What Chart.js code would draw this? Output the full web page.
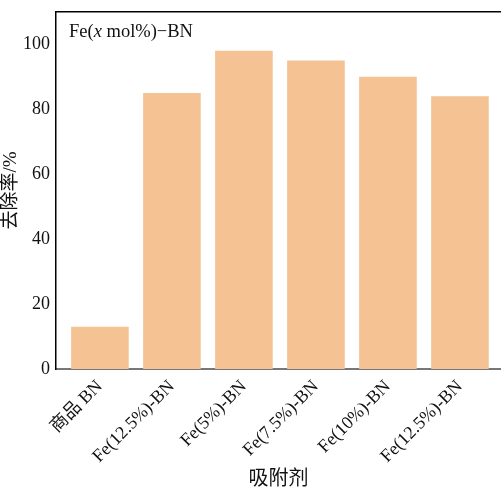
<!DOCTYPE html>
<html lang="zh">
<head>
    <meta charset="UTF-8">
    <title>去除率</title>
    <script src="https://cdn.jsdelivr.net/npm/chart.js"></script>
    <style>
        html, body { margin: 0; padding: 0; background: #fff; overflow: hidden; }
        #wrap { width: 501px; height: 488px; position: relative; }
    </style>
</head>
<body>
<div id="wrap"><canvas id="myChart"></canvas></div>
<script>
    // data
    const categories = ['商品 BN', 'Fe(12.5%)-BN', 'Fe(5%)-BN', 'Fe(7.5%)-BN', 'Fe(10%)-BN', 'Fe(12.5%)-BN'];
    const removal = [13, 85, 98, 95, 90, 84];
    const yTicks = [0, 20, 40, 60, 80, 100];

    const serif = '"Liberation Serif", "Times New Roman", "Noto Sans CJK SC", serif';

    const points = categories.map(function (c, i) { return { x: i, y: removal[i] }; });

    // top frame line + in-plot label
    const frame = {
        id: 'frame',
        afterDraw: function (chart) {
            const c = chart.ctx, a = chart.chartArea;
            c.save();
            c.strokeStyle = '#000';
            c.lineWidth = 1.5;
            c.beginPath();
            c.moveTo(a.left, a.top);
            c.lineTo(a.right, a.top);
            c.stroke();
            c.fillStyle = '#111';
            c.textBaseline = 'alphabetic';
            let x = a.left + 13, y = a.top + 25;
            const parts = [['Fe(', ''], ['x', 'italic '], [' mol%)\u2212BN', '']];
            parts.forEach(function (p) {
                c.font = p[1] + '18.5px ' + serif;
                c.fillText(p[0], x, y);
                x += c.measureText(p[0]).width;
            });
            c.restore();
        }
    };

    new Chart(document.getElementById('myChart'), {
        type: 'bar',
        data: {
            datasets: [{
                data: points,
                backgroundColor: '#F4C293',
                borderWidth: 0,
                barPercentage: 0.8,
                categoryPercentage: 1
            }]
        },
        options: {
            responsive: true,
            maintainAspectRatio: false,
            animation: false,
            layout: { padding: { top: 8, right: 0, left: 0, bottom: 0 } },
            plugins: { legend: { display: false }, tooltip: { enabled: false } },
            scales: {
                x: {
                    type: 'linear',
                    offset: false,
                    min: -0.61,
                    max: 5.57,
                    afterBuildTicks: function (s) {
                        s.ticks = categories.map(function (c, i) { return { value: i }; });
                    },
                    afterFit: function (s) { s.height = 119; },
                    grid: { display: false, drawTicks: false },
                    border: { display: true, color: '#777', width: 2 },
                    ticks: {
                        autoSkip: false,
                        minRotation: 45,
                        maxRotation: 45,
                        padding: 7,
                        color: '#111',
                        font: { family: serif, size: 18 },
                        callback: function (v) { return categories[v]; }
                    },
                    title: {
                        display: true,
                        text: '吸附剂',
                        color: '#111',
                        font: { family: serif, size: 20 },
                        padding: { top: 0, bottom: -4 }
                    }
                },
                y: {
                    min: 0,
                    max: 110,
                    afterBuildTicks: function (s) {
                        s.ticks = yTicks.map(function (v) { return { value: v }; });
                    },
                    afterFit: function (s) { s.width = 56; },
                    grid: { display: false, drawTicks: true, tickLength: 5, tickColor: '#000', tickWidth: 1 },
                    border: { display: true, color: '#000', width: 1.5 },
                    ticks: {
                        padding: 1,
                        color: '#111',
                        font: { family: serif, size: 18 }
                    },
                    title: {
                        display: true,
                        text: '去除率/%',
                        color: '#111',
                        font: { family: serif, size: 19 },
                        padding: { top: 0, bottom: 0 }
                    }
                }
            }
        },
        plugins: [frame]
    });
</script>
</body>
</html>
